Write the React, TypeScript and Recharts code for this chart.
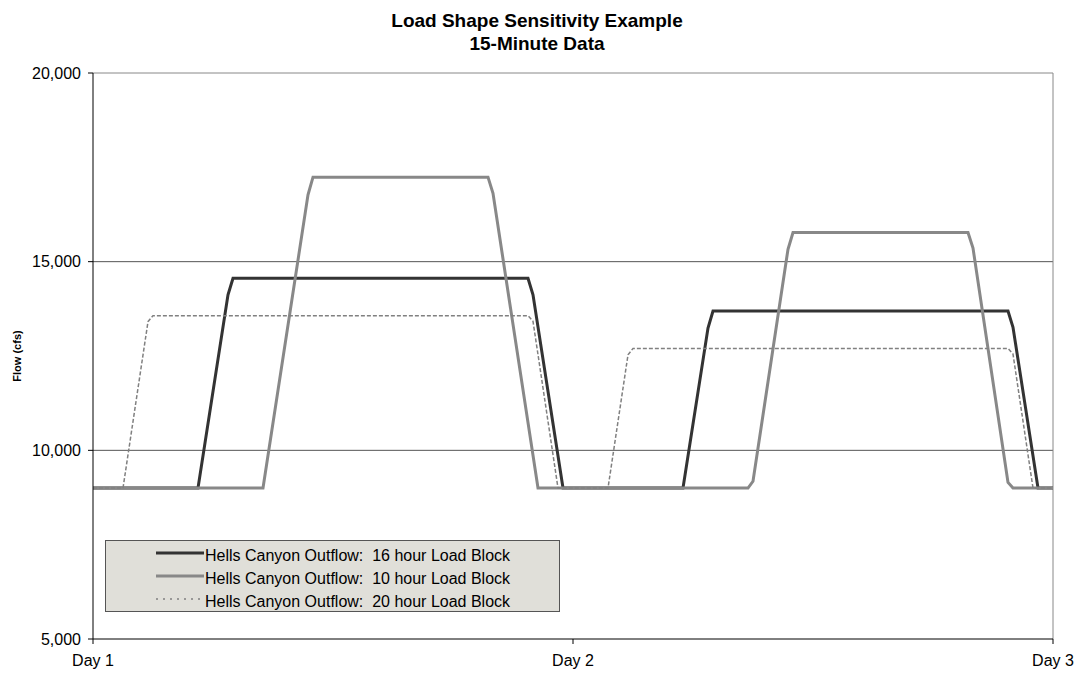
import React from 'react';
import { LineChart, Line, XAxis, YAxis, ReferenceLine } from 'recharts';

// 15-minute interval index (0 = start of Day 1, 96 = Day 2, 192 = Day 3) and flow (cfs) at shape breakpoints
const interval16 = [0, 21, 27, 28, 87, 88, 94, 118, 123, 124, 183, 184, 189, 192];
const flow16 = [9000, 9000, 14120, 14560, 14560, 14120, 9000, 9000, 13240, 13690, 13690, 13260, 9000, 9000];

const interval10 = [0, 34, 43, 44, 79, 80, 89, 131, 132, 139, 140, 175, 176, 183, 184, 192];
const flow10 = [9000, 9000, 16770, 17240, 17240, 16810, 9000, 9000, 9180, 15330, 15770, 15770, 15360, 9150, 9000, 9000];

const interval20 = [0, 6, 11, 12, 87, 88, 93, 103, 107, 108, 183, 184, 188, 192];
const flow20 = [9000, 9000, 13410, 13570, 13570, 13420, 9000, 9000, 12530, 12700, 12700, 12550, 9000, 9000];

const dayTicks = [0, 96, 192];
const dayLabels = ['Day 1', 'Day 2', 'Day 3'];
const flowTicks = [5000, 10000, 15000, 20000];
const gridValues = [10000, 15000];

const seriesNames = [
  'Hells Canyon Outflow:  16 hour Load Block',
  'Hells Canyon Outflow:  10 hour Load Block',
  'Hells Canyon Outflow:  20 hour Load Block',
];

const titleLines = ['Load Shape Sensitivity Example', '15-Minute Data'];

const toRows = (xs: number[], ys: number[]) => xs.map((t, i) => ({ t, v: ys[i] }));
const data16 = toRows(interval16, flow16);
const data10 = toRows(interval10, flow10);
const data20 = toRows(interval20, flow20);

const FONT = '"Liberation Sans", Arial, Helvetica, sans-serif';

const legendStyles = [
  { stroke: '#333333', width: 3, dash: undefined as string | undefined },
  { stroke: '#888888', width: 3, dash: undefined as string | undefined },
  { stroke: '#808080', width: 1.5, dash: '2 5' },
];

const LegendBox = () => (
  <div
    style={{
      position: 'absolute',
      left: 105,
      top: 540,
      boxSizing: 'border-box',
      width: 455,
      height: 72,
      border: '1px solid #555',
      background: '#e0dfd9',
      paddingTop: 3,
      fontFamily: FONT,
      fontSize: 16,
      color: '#000',
    }}
  >
    {seriesNames.map((name, i) => (
      <div key={name} style={{ display: 'flex', alignItems: 'center', height: 23.3, whiteSpace: 'pre' }}>
        <svg width={48} height={10} style={{ marginLeft: 50, transform: 'translateY(-3px)' }}>
          <line
            x1={0}
            y1={5}
            x2={48}
            y2={5}
            stroke={legendStyles[i].stroke}
            strokeWidth={legendStyles[i].width}
            strokeDasharray={legendStyles[i].dash}
          />
        </svg>
        <span style={{ marginLeft: 1 }}>{name}</span>
      </div>
    ))}
  </div>
);

export default function App() {
  return (
    <div style={{ position: 'absolute', left: 0, top: 0, width: 1083, height: 683, background: '#fff', fontFamily: FONT }}>
      <div
        style={{
          position: 'absolute',
          left: 0,
          top: 9,
          width: 1074,
          textAlign: 'center',
          fontWeight: 'bold',
          fontSize: 19,
          lineHeight: '23px',
          color: '#000',
        }}
      >
        {titleLines.map((l) => (
          <div key={l}>{l}</div>
        ))}
      </div>
      <LineChart width={1083} height={683} margin={{ top: 73, right: 30, bottom: 14, left: 13 }} style={{ fontFamily: FONT }}>
        <XAxis
          type="number"
          dataKey="t"
          domain={[0, 192]}
          ticks={dayTicks}
          interval={0}
          tickFormatter={(v: number) => dayLabels[dayTicks.indexOf(v)]}
          height={30}
          tickSize={5}
          tickMargin={11}
          axisLine={{ stroke: '#000', strokeWidth: 1 }}
          tickLine={{ stroke: '#000' }}
          tick={{ fill: '#000', fontSize: 16 }}
          allowDataOverflow
        />
        <YAxis
          type="number"
          domain={[5000, 20000]}
          ticks={flowTicks}
          interval={0}
          width={80}
          tickSize={5}
          tickMargin={7}
          tickFormatter={(v: number) => v.toLocaleString('en-US')}
          axisLine={{ stroke: '#000', strokeWidth: 1 }}
          tickLine={{ stroke: '#000' }}
          tick={{ fill: '#000', fontSize: 16 }}
          allowDataOverflow
          label={{
            value: 'Flow (cfs)',
            angle: -90,
            position: 'insideLeft',
            offset: 4,
            style: { textAnchor: 'middle', fontSize: 11, fontWeight: 'bold', fill: '#000' },
          }}
        />
        {gridValues.map((g) => (
          <ReferenceLine key={g} y={g} stroke="#555555" strokeWidth={1} />
        ))}
        <ReferenceLine y={20000} stroke="#888888" strokeWidth={1} />
        <ReferenceLine x={192} stroke="#888888" strokeWidth={1} />
        <Line
          data={data16}
          dataKey="v"
          name={seriesNames[0]}
          type="linear"
          stroke="#333333"
          strokeWidth={3}
          dot={false}
          activeDot={false}
          isAnimationActive={false}
        />
        <Line
          data={data10}
          dataKey="v"
          name={seriesNames[1]}
          type="linear"
          stroke="#888888"
          strokeWidth={3}
          dot={false}
          activeDot={false}
          isAnimationActive={false}
        />
        <Line
          data={data20}
          dataKey="v"
          name={seriesNames[2]}
          type="linear"
          stroke="#808080"
          strokeWidth={1.5}
          strokeDasharray="4 2"
          dot={false}
          activeDot={false}
          isAnimationActive={false}
        />
      </LineChart>
      <LegendBox />
    </div>
  );
}
